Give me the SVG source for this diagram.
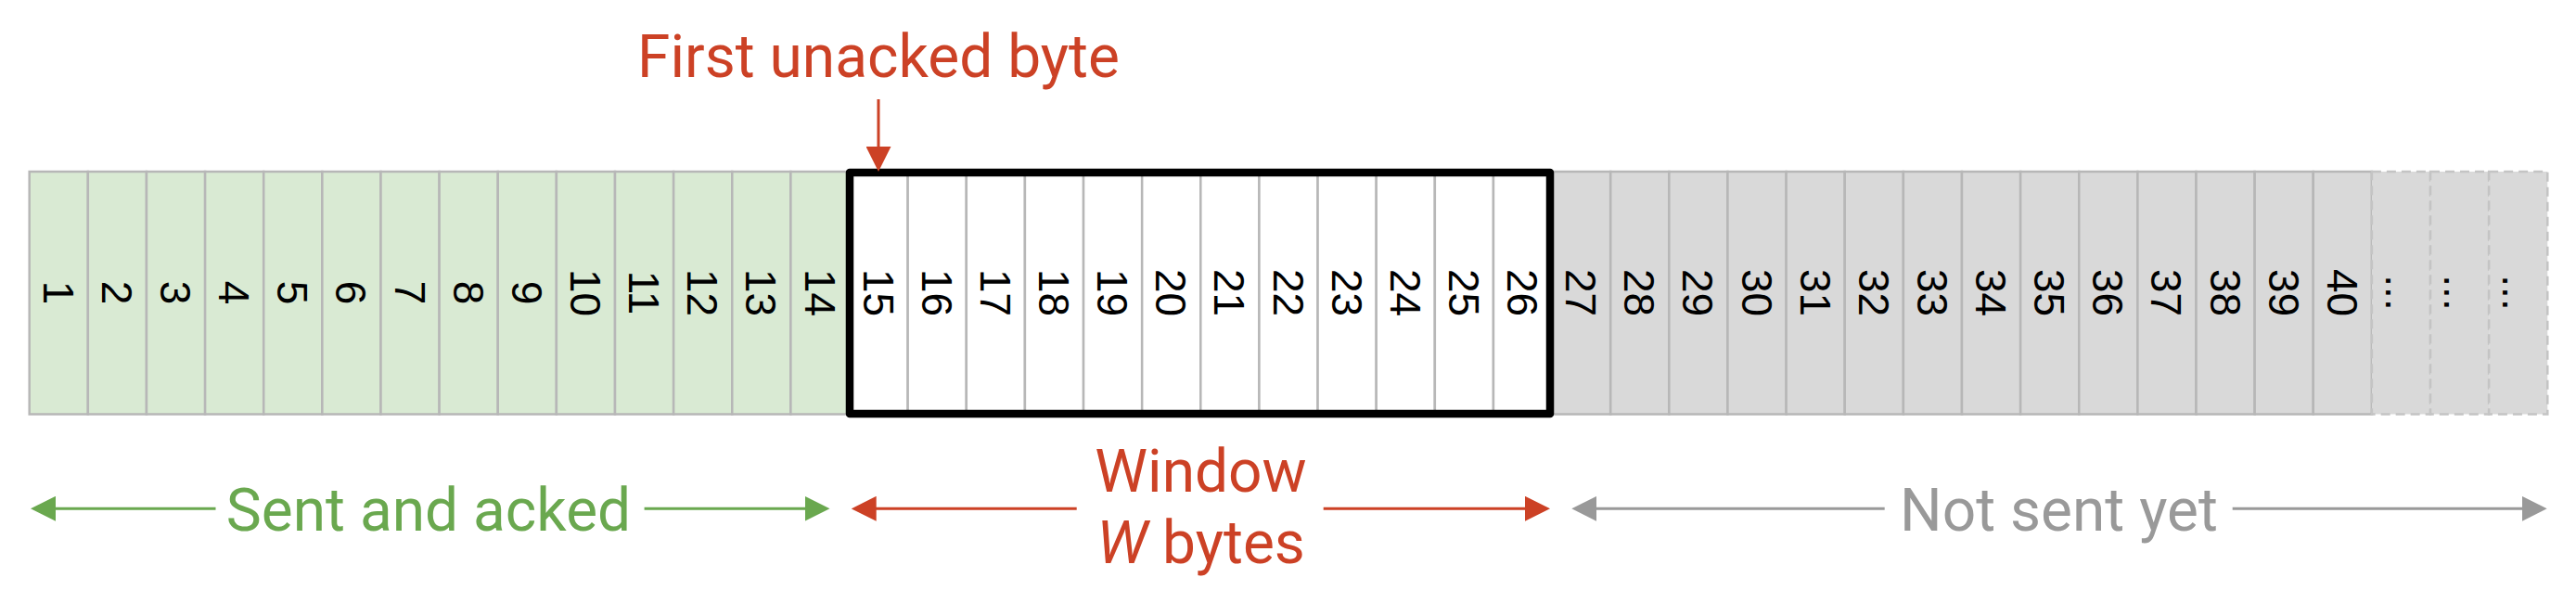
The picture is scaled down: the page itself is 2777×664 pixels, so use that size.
<svg xmlns="http://www.w3.org/2000/svg" width="2777" height="664" viewBox="0 0 2777 664">
<style>
.acked{fill:#d9ead3;stroke:#b7b7b7;stroke-width:2.5}
.win{fill:#ffffff;stroke:#b7b7b7;stroke-width:2.5}
.notsent{fill:#d9d9d9;stroke:#b7b7b7;stroke-width:2.5}
.more{fill:#d9d9d9;stroke:#c4c4c4;stroke-width:2.5;stroke-dasharray:10 6}
.num{font-family:"Liberation Sans",Arial,sans-serif;font-size:46px;fill:#000000;text-anchor:middle}
.lbl{font-family:Roboto,"Liberation Sans",sans-serif;font-size:64px;text-anchor:middle}
.red{fill:#cc4125}.green{fill:#6aa84f}.grey{fill:#999999}
.ln{stroke-width:3;fill:none}
</style>
<defs>
<marker id="ah-green" viewBox="0 0 27 27" refX="1" refY="13.5" markerWidth="27" markerHeight="27" markerUnits="userSpaceOnUse" orient="auto"><path d="M0,0 L27,13.5 L0,27 Z" fill="#6aa84f"/></marker>
<marker id="ah-red" viewBox="0 0 27 27" refX="1" refY="13.5" markerWidth="27" markerHeight="27" markerUnits="userSpaceOnUse" orient="auto"><path d="M0,0 L27,13.5 L0,27 Z" fill="#cc4125"/></marker>
<marker id="ah-grey" viewBox="0 0 27 27" refX="1" refY="13.5" markerWidth="27" markerHeight="27" markerUnits="userSpaceOnUse" orient="auto"><path d="M0,0 L27,13.5 L0,27 Z" fill="#999999"/></marker>
</defs>
<rect width="2777" height="664" fill="#ffffff"/>
<g id="bytes">
<g id="byte-1"><rect class="acked" x="31.7" y="185" width="63.13" height="261.5"/><text class="num" transform="translate(63.3,315.5) rotate(90)" y="16.5">1</text></g>
<g id="byte-2"><rect class="acked" x="94.83" y="185" width="63.13" height="261.5"/><text class="num" transform="translate(126.4,315.5) rotate(90)" y="16.5">2</text></g>
<g id="byte-3"><rect class="acked" x="157.96" y="185" width="63.13" height="261.5"/><text class="num" transform="translate(189.5,315.5) rotate(90)" y="16.5">3</text></g>
<g id="byte-4"><rect class="acked" x="221.09" y="185" width="63.13" height="261.5"/><text class="num" transform="translate(252.7,315.5) rotate(90)" y="16.5">4</text></g>
<g id="byte-5"><rect class="acked" x="284.22" y="185" width="63.13" height="261.5"/><text class="num" transform="translate(315.8,315.5) rotate(90)" y="16.5">5</text></g>
<g id="byte-6"><rect class="acked" x="347.35" y="185" width="63.13" height="261.5"/><text class="num" transform="translate(378.9,315.5) rotate(90)" y="16.5">6</text></g>
<g id="byte-7"><rect class="acked" x="410.48" y="185" width="63.13" height="261.5"/><text class="num" transform="translate(442.0,315.5) rotate(90)" y="16.5">7</text></g>
<g id="byte-8"><rect class="acked" x="473.61" y="185" width="63.13" height="261.5"/><text class="num" transform="translate(505.2,315.5) rotate(90)" y="16.5">8</text></g>
<g id="byte-9"><rect class="acked" x="536.74" y="185" width="63.13" height="261.5"/><text class="num" transform="translate(568.3,315.5) rotate(90)" y="16.5">9</text></g>
<g id="byte-10"><rect class="acked" x="599.87" y="185" width="63.13" height="261.5"/><text class="num" transform="translate(631.4,315.5) rotate(90)" y="16.5">10</text></g>
<g id="byte-11"><rect class="acked" x="663.0" y="185" width="63.13" height="261.5"/><text class="num" transform="translate(694.6,315.5) rotate(90)" y="16.5">11</text></g>
<g id="byte-12"><rect class="acked" x="726.13" y="185" width="63.13" height="261.5"/><text class="num" transform="translate(757.7,315.5) rotate(90)" y="16.5">12</text></g>
<g id="byte-13"><rect class="acked" x="789.26" y="185" width="63.13" height="261.5"/><text class="num" transform="translate(820.8,315.5) rotate(90)" y="16.5">13</text></g>
<g id="byte-14"><rect class="acked" x="852.39" y="185" width="63.13" height="261.5"/><text class="num" transform="translate(884.0,315.5) rotate(90)" y="16.5">14</text></g>
<g id="byte-15"><rect class="win" x="915.52" y="185" width="63.13" height="261.5"/><text class="num" transform="translate(947.1,315.5) rotate(90)" y="16.5">15</text></g>
<g id="byte-16"><rect class="win" x="978.65" y="185" width="63.13" height="261.5"/><text class="num" transform="translate(1010.2,315.5) rotate(90)" y="16.5">16</text></g>
<g id="byte-17"><rect class="win" x="1041.78" y="185" width="63.13" height="261.5"/><text class="num" transform="translate(1073.3,315.5) rotate(90)" y="16.5">17</text></g>
<g id="byte-18"><rect class="win" x="1104.91" y="185" width="63.13" height="261.5"/><text class="num" transform="translate(1136.5,315.5) rotate(90)" y="16.5">18</text></g>
<g id="byte-19"><rect class="win" x="1168.04" y="185" width="63.13" height="261.5"/><text class="num" transform="translate(1199.6,315.5) rotate(90)" y="16.5">19</text></g>
<g id="byte-20"><rect class="win" x="1231.17" y="185" width="63.13" height="261.5"/><text class="num" transform="translate(1262.7,315.5) rotate(90)" y="16.5">20</text></g>
<g id="byte-21"><rect class="win" x="1294.3" y="185" width="63.13" height="261.5"/><text class="num" transform="translate(1325.9,315.5) rotate(90)" y="16.5">21</text></g>
<g id="byte-22"><rect class="win" x="1357.43" y="185" width="63.13" height="261.5"/><text class="num" transform="translate(1389.0,315.5) rotate(90)" y="16.5">22</text></g>
<g id="byte-23"><rect class="win" x="1420.56" y="185" width="63.13" height="261.5"/><text class="num" transform="translate(1452.1,315.5) rotate(90)" y="16.5">23</text></g>
<g id="byte-24"><rect class="win" x="1483.69" y="185" width="63.13" height="261.5"/><text class="num" transform="translate(1515.3,315.5) rotate(90)" y="16.5">24</text></g>
<g id="byte-25"><rect class="win" x="1546.82" y="185" width="63.13" height="261.5"/><text class="num" transform="translate(1578.4,315.5) rotate(90)" y="16.5">25</text></g>
<g id="byte-26"><rect class="win" x="1609.95" y="185" width="63.13" height="261.5"/><text class="num" transform="translate(1641.5,315.5) rotate(90)" y="16.5">26</text></g>
<g id="byte-27"><rect class="notsent" x="1673.08" y="185" width="63.13" height="261.5"/><text class="num" transform="translate(1704.6,315.5) rotate(90)" y="16.5">27</text></g>
<g id="byte-28"><rect class="notsent" x="1736.21" y="185" width="63.13" height="261.5"/><text class="num" transform="translate(1767.8,315.5) rotate(90)" y="16.5">28</text></g>
<g id="byte-29"><rect class="notsent" x="1799.34" y="185" width="63.13" height="261.5"/><text class="num" transform="translate(1830.9,315.5) rotate(90)" y="16.5">29</text></g>
<g id="byte-30"><rect class="notsent" x="1862.47" y="185" width="63.13" height="261.5"/><text class="num" transform="translate(1894.0,315.5) rotate(90)" y="16.5">30</text></g>
<g id="byte-31"><rect class="notsent" x="1925.6" y="185" width="63.13" height="261.5"/><text class="num" transform="translate(1957.2,315.5) rotate(90)" y="16.5">31</text></g>
<g id="byte-32"><rect class="notsent" x="1988.73" y="185" width="63.13" height="261.5"/><text class="num" transform="translate(2020.3,315.5) rotate(90)" y="16.5">32</text></g>
<g id="byte-33"><rect class="notsent" x="2051.86" y="185" width="63.13" height="261.5"/><text class="num" transform="translate(2083.4,315.5) rotate(90)" y="16.5">33</text></g>
<g id="byte-34"><rect class="notsent" x="2114.99" y="185" width="63.13" height="261.5"/><text class="num" transform="translate(2146.6,315.5) rotate(90)" y="16.5">34</text></g>
<g id="byte-35"><rect class="notsent" x="2178.12" y="185" width="63.13" height="261.5"/><text class="num" transform="translate(2209.7,315.5) rotate(90)" y="16.5">35</text></g>
<g id="byte-36"><rect class="notsent" x="2241.25" y="185" width="63.13" height="261.5"/><text class="num" transform="translate(2272.8,315.5) rotate(90)" y="16.5">36</text></g>
<g id="byte-37"><rect class="notsent" x="2304.38" y="185" width="63.13" height="261.5"/><text class="num" transform="translate(2335.9,315.5) rotate(90)" y="16.5">37</text></g>
<g id="byte-38"><rect class="notsent" x="2367.51" y="185" width="63.13" height="261.5"/><text class="num" transform="translate(2399.1,315.5) rotate(90)" y="16.5">38</text></g>
<g id="byte-39"><rect class="notsent" x="2430.64" y="185" width="63.13" height="261.5"/><text class="num" transform="translate(2462.2,315.5) rotate(90)" y="16.5">39</text></g>
<g id="byte-40"><rect class="notsent" x="2493.77" y="185" width="63.13" height="261.5"/><text class="num" transform="translate(2525.3,315.5) rotate(90)" y="16.5">40</text></g>
<g id="byte-more-1"><rect class="more" x="2556.9" y="185" width="63.13" height="261.5"/><text class="num" transform="translate(2588.5,315.5) rotate(90)" y="16.5">...</text></g>
<g id="byte-more-2"><rect class="more" x="2620.03" y="185" width="63.13" height="261.5"/><text class="num" transform="translate(2651.6,315.5) rotate(90)" y="16.5">...</text></g>
<g id="byte-more-3"><rect class="more" x="2683.16" y="185" width="63.13" height="261.5"/><text class="num" transform="translate(2714.7,315.5) rotate(90)" y="16.5">...</text></g>
</g>
<g id="window-box"><rect x="916" y="186" width="755" height="260" fill="none" stroke="#000000" stroke-width="8.5" stroke-linejoin="round"/></g>
<g id="label-first-unacked"><text class="lbl red" x="947" y="83">First unacked byte</text></g>
<g id="label-sent-acked"><text class="lbl green" x="462" y="571.7">Sent and acked</text></g>
<g id="label-window"><text class="lbl red" x="1294.5" y="530">Window</text><text class="lbl red" x="1294.5" y="606.7"><tspan font-style="italic">W</tspan> bytes</text></g>
<g id="label-not-sent"><text class="lbl grey" x="2219.5" y="571.7">Not sent yet</text></g>
<g id="connectors">
<line class="ln" stroke="#cc4125" x1="947" y1="107" x2="947" y2="159" marker-end="url(#ah-red)"/>
<line class="ln" stroke="#6aa84f" x1="232.5" y1="548.3" x2="59" y2="548.3" marker-end="url(#ah-green)"/>
<line class="ln" stroke="#6aa84f" x1="694.6" y1="548.3" x2="868.5" y2="548.3" marker-end="url(#ah-green)"/>
<line class="ln" stroke="#cc4125" x1="1160.7" y1="548.3" x2="943.7" y2="548.3" marker-end="url(#ah-red)"/>
<line class="ln" stroke="#cc4125" x1="1426.7" y1="548.3" x2="1645" y2="548.3" marker-end="url(#ah-red)"/>
<line class="ln" stroke="#999999" x1="2031.7" y1="548.3" x2="1720.3" y2="548.3" marker-end="url(#ah-grey)"/>
<line class="ln" stroke="#999999" x1="2406.7" y1="548.3" x2="2719.7" y2="548.3" marker-end="url(#ah-grey)"/>
</g>
</svg>
